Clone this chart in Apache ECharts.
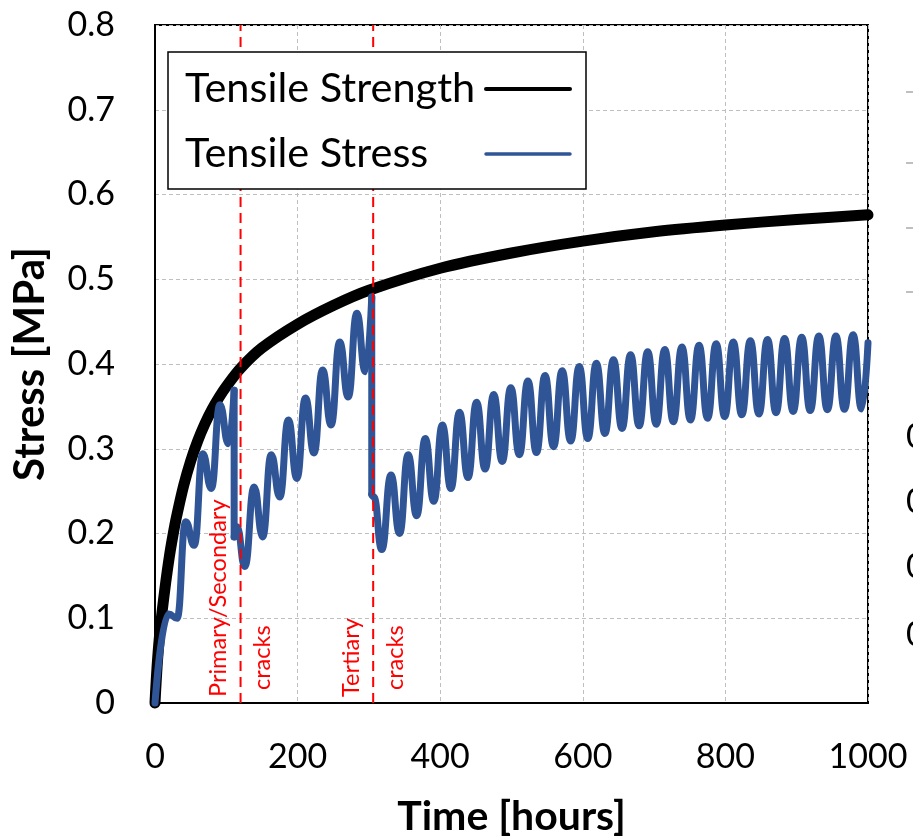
<!DOCTYPE html>
<html>
<head>
<meta charset="utf-8">
<script src="https://cdn.jsdelivr.net/npm/echarts@6/dist/echarts.min.js"></script>
<style>
html, body { margin: 0; padding: 0; background: #ffffff; }
#chart { width: 913px; height: 836px; }
</style>
</head>
<body>
<div id="chart"></div>
<script>
// Tensile strength development of the concrete [MPa] over time [hours]
const strengthTime = [0, 1, 3, 6, 10, 15, 20, 25, 30, 40, 50, 60, 70, 80, 90, 100, 120, 150, 200, 250, 300, 400, 500, 600, 700, 800, 900, 1000];
const strengthValue = [0, 0.016, 0.044, 0.076, 0.108, 0.142, 0.172, 0.197, 0.219, 0.256, 0.2855, 0.3095, 0.3295, 0.3465, 0.361, 0.3735, 0.395, 0.419, 0.447, 0.469, 0.487, 0.513, 0.531, 0.545, 0.556, 0.564, 0.5705, 0.576];

// Tensile stress: daily peaks and troughs; a repeated time marks a sudden stress release
const stressTime = [0, 19, 31, 43, 55, 67, 79, 91, 103, 111,
  111, 115, 126, 139, 151, 163, 175, 187, 199, 211,
  223, 235, 247, 259, 271, 283, 295, 304, 304, 307,
  318, 331, 343, 355, 367, 379, 391, 403, 415, 427,
  439, 451, 463, 475, 487, 499, 511, 523, 535, 547,
  559, 571, 583, 595, 607, 619, 631, 643, 655, 667,
  679, 691, 703, 715, 727, 739, 751, 763, 775, 787,
  799, 811, 823, 835, 847, 859, 871, 883, 895, 907,
  919, 931, 943, 955, 967, 979, 991, 1000];
const stressValue = [0, 0.105, 0.100, 0.214, 0.186, 0.294, 0.253, 0.352, 0.306, 0.369,
  0.196, 0.208, 0.161, 0.255, 0.196, 0.293, 0.243, 0.334, 0.265, 0.360,
  0.295, 0.393, 0.328, 0.426, 0.361, 0.460, 0.391, 0.479, 0.246, 0.243,
  0.181, 0.269, 0.200, 0.293, 0.221, 0.312, 0.238, 0.328, 0.253, 0.343,
  0.266, 0.355, 0.276, 0.364, 0.285, 0.372, 0.293, 0.380, 0.2955, 0.3865,
  0.3025, 0.392, 0.309, 0.397, 0.312, 0.401, 0.318, 0.405, 0.324, 0.411,
  0.327, 0.4145, 0.329, 0.417, 0.332, 0.420, 0.334, 0.422, 0.336, 0.424,
  0.338, 0.426, 0.340, 0.4275, 0.341, 0.429, 0.3425, 0.430, 0.344, 0.4315,
  0.345, 0.433, 0.346, 0.433, 0.3465, 0.4345, 0.347, 0.425];

// Cracking events
const crackTimes = [120, 306];
const crackLabelsLeft = ['Primary/Secondary', 'Tertiary'];
const crackLabelsRight = ['cracks', 'cracks'];

// Axes
const timeAxisRange = [0, 1000];
const timeTickStep = 200;
const stressAxisRange = [0, 0.8];
const stressTickStep = 0.1;

// Tick-label fragments of the neighbouring panel cut by the right edge
const edgeLabelRows = [437, 502, 567, 635];
const edgeDashRows = [92, 163, 228, 292];

const FONT = 'Lato, "Open Sans", sans-serif';
const BLUE = '#2F5597';

// Split the stress history into smooth stretches joined by vertical drops
function stressSegments() {
  const segs = [];
  let cur = [];
  for (let i = 0; i < stressTime.length; i++) {
    const p = [stressTime[i], stressValue[i]];
    if (cur.length && stressTime[i] === stressTime[i - 1]) {
      segs.push({ smooth: true, data: cur });
      segs.push({ smooth: false, data: [cur[cur.length - 1], p] });
      cur = [p];
    } else {
      cur.push(p);
    }
  }
  segs.push({ smooth: true, data: cur });
  return segs;
}

const series = [];

series.push({
  name: 'Tensile Strength',
  type: 'line',
  data: strengthTime.map((t, i) => [t, strengthValue[i]]),
  smooth: 0.3,
  symbol: 'none',
  showSymbol: false,
  clip: false,
  color: '#000000',
  lineStyle: { color: '#000000', width: 11, cap: 'round', join: 'round' },
  z: 2,
  silent: true
});

stressSegments().forEach(seg => {
  series.push({
    name: 'Tensile Stress',
    type: 'line',
    data: seg.data,
    smooth: seg.smooth ? 0.5 : false,
    smoothMonotone: 'x',
    symbol: 'none',
    showSymbol: false,
    clip: false,
    color: BLUE,
    lineStyle: { color: BLUE, width: 7, cap: 'round', join: 'round' },
    z: 3,
    silent: true
  });
});

crackTimes.forEach((t, i) => {
  series.push({
    name: 'crack' + i,
    type: 'line',
    data: [[t, stressAxisRange[0]], [t, stressAxisRange[1]]],
    symbol: 'none',
    showSymbol: false,
    color: '#ff0000',
    lineStyle: { color: '#ff0000', width: 2, type: [10, 6] },
    z: 4,
    silent: true
  });
});

const chart = echarts.init(document.getElementById('chart'), null, { renderer: 'canvas' });

const hiddenDot = { color: 'rgba(0,0,0,0)', borderWidth: 0, opacity: 0 };

const option = {
  animation: false,
  backgroundColor: '#ffffff',
  grid: {
    left: 155, right: 45, top: 25, bottom: 133,
    show: true, borderColor: '#000000', borderWidth: 2,
    containLabel: false, outerBoundsMode: 'none'
  },
  legend: {
    data: [
      { name: 'Tensile Strength', lineStyle: { width: 4, color: '#000000' }, itemStyle: hiddenDot },
      { name: 'Tensile Stress', lineStyle: { width: 3.5, color: BLUE }, itemStyle: hiddenDot }
    ],
    orient: 'vertical',
    left: 168,
    top: 52,
    align: 'right',
    itemWidth: 84,
    itemHeight: 14,
    itemGap: 23,
    padding: [16, 14, 14, 17],
    backgroundColor: '#ffffff',
    borderColor: '#000000',
    borderWidth: 1.5,
    borderRadius: 0,
    selectedMode: false,
    formatter: '{t|{name}}',
    textStyle: {
      color: '#000000', fontSize: 41.5, fontFamily: FONT,
      rich: { t: { width: 296, align: 'left', fontSize: 41.5, fontFamily: FONT, color: '#000000' } }
    },
    z: 10
  },
  xAxis: {
    type: 'value',
    min: timeAxisRange[0], max: timeAxisRange[1], interval: timeTickStep,
    name: 'Time [hours]',
    nameLocation: 'middle',
    nameGap: 93,
    nameTextStyle: { color: '#000000', fontSize: 41, fontWeight: 'bold', fontFamily: FONT },
    axisLine: { show: true, onZero: false, lineStyle: { color: '#000000', width: 2 } },
    axisTick: { show: false },
    axisLabel: { color: '#000000', fontSize: 34, fontFamily: FONT, margin: 37, formatter: v => String(v) },
    splitLine: { show: true, lineStyle: { color: '#bfbfbf', width: 1, type: [4, 3] } }
  },
  yAxis: {
    type: 'value',
    min: stressAxisRange[0], max: stressAxisRange[1], interval: stressTickStep,
    name: 'Stress [MPa]',
    nameLocation: 'middle',
    nameGap: 104,
    nameRotate: 90,
    nameTextStyle: { color: '#000000', fontSize: 42, fontWeight: 'bold', fontFamily: FONT },
    axisLine: { show: true, onZero: false, lineStyle: { color: '#000000', width: 2 } },
    axisTick: { show: false },
    axisLabel: { color: '#000000', fontSize: 34, fontFamily: FONT, margin: 40, formatter: v => String(Math.round(v * 10) / 10) },
    splitLine: { show: true, lineStyle: { color: '#bfbfbf', width: 1, type: [4, 3] } }
  },
  series: series
};

chart.setOption(option);

// Rotated red captions on both sides of each crack line, placed from axis coordinates
const graphics = [];
crackTimes.forEach((t, i) => {
  const pt = chart.convertToPixel({ gridIndex: 0 }, [t, stressAxisRange[0]]);
  graphics.push({
    type: 'text', x: pt[0] - 10, y: pt[1] - 6, rotation: Math.PI / 2, z: 20, silent: true,
    style: { text: crackLabelsLeft[i], fill: '#ff0000', fontSize: 23.5, fontFamily: FONT, align: 'left', verticalAlign: 'bottom' }
  });
  graphics.push({
    type: 'text', x: pt[0] + 10, y: pt[1] - 13, rotation: Math.PI / 2, z: 20, silent: true,
    style: { text: crackLabelsRight[i], fill: '#ff0000', fontSize: 23.5, fontFamily: FONT, align: 'left', verticalAlign: 'top' }
  });
});
edgeLabelRows.forEach(y => {
  graphics.push({
    type: 'text', x: 906, y: y, z: 20, silent: true,
    style: { text: '0', fill: '#000000', fontSize: 34, fontFamily: FONT, align: 'left', verticalAlign: 'middle' }
  });
});
edgeDashRows.forEach(y => {
  graphics.push({
    type: 'line', z: 20, silent: true,
    shape: { x1: 906, y1: y, x2: 913, y2: y },
    style: { stroke: '#bfbfbf', lineWidth: 2 }
  });
});
chart.setOption({ graphic: graphics });
</script>
</body>
</html>
